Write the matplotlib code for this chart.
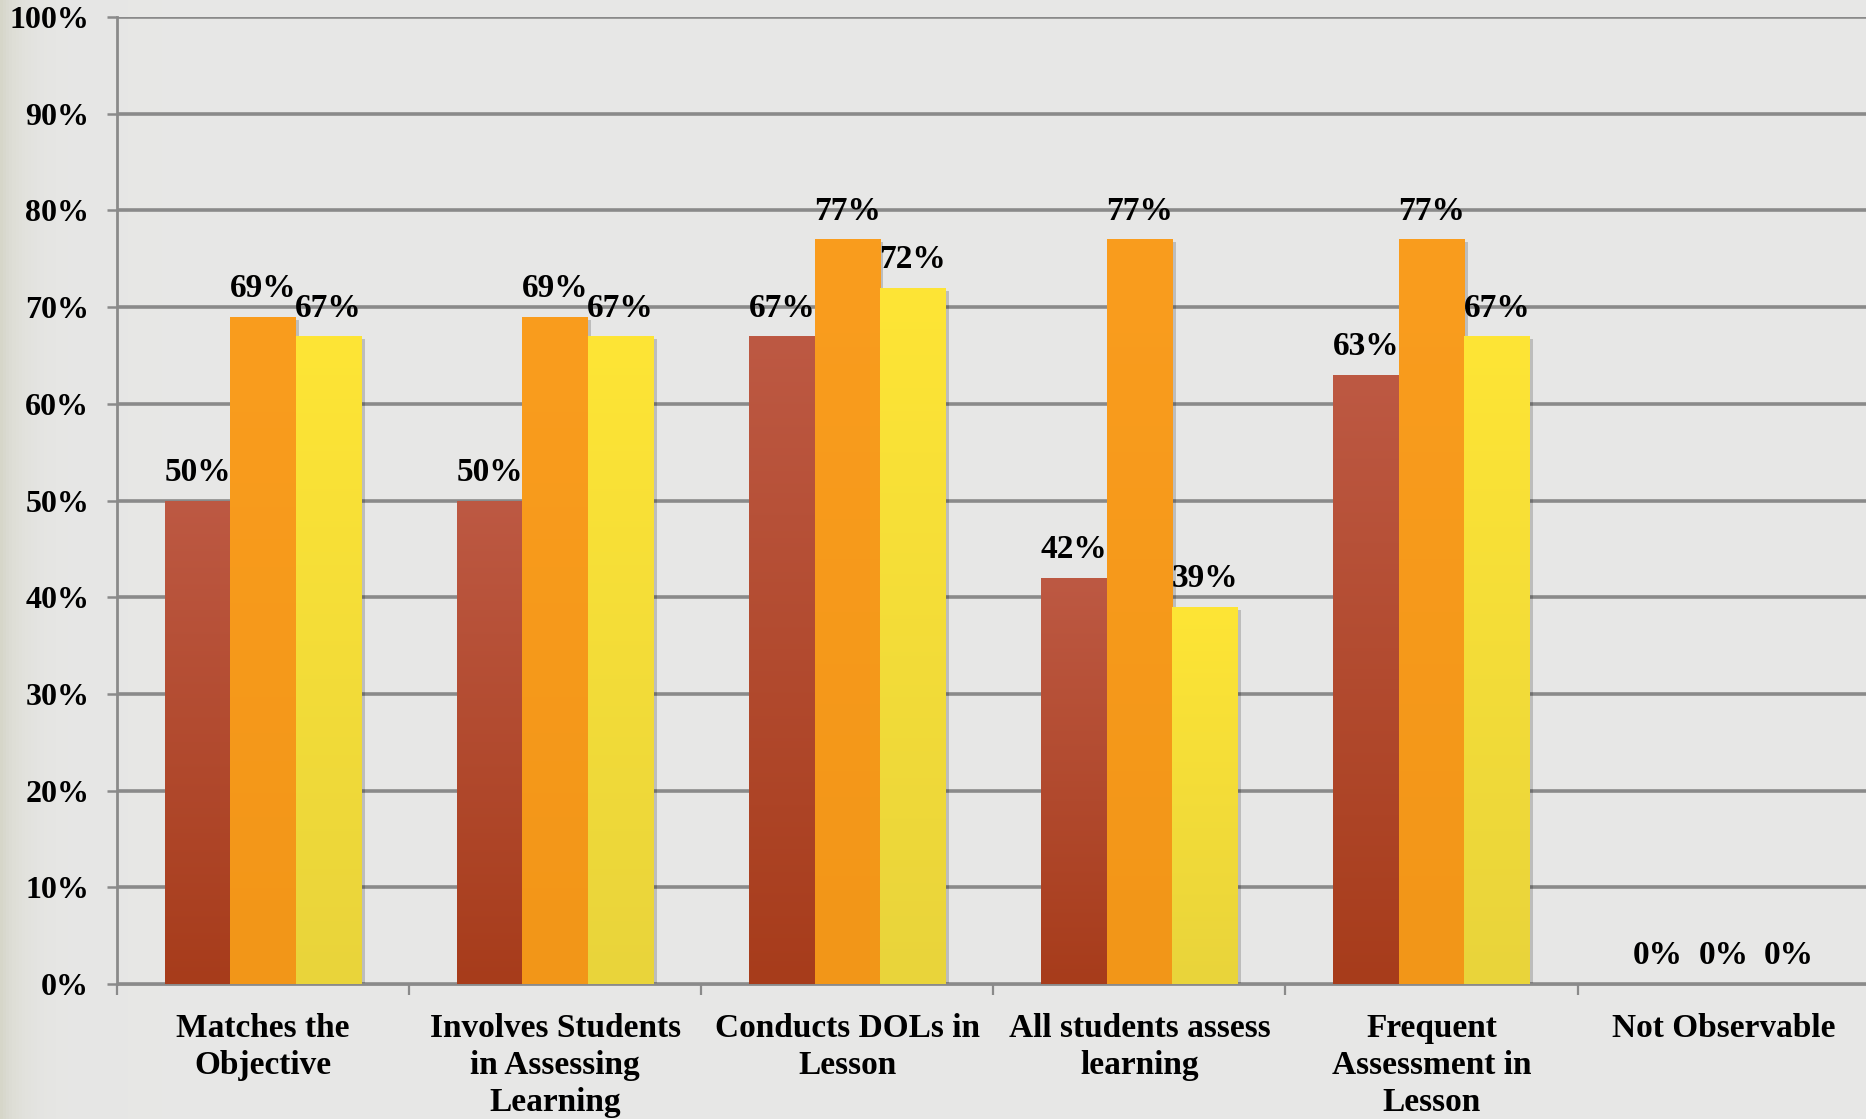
import numpy as np
import matplotlib
matplotlib.use("Agg")
import matplotlib.pyplot as plt
from matplotlib.colors import LinearSegmentedColormap
import matplotlib.patheffects as pe
from matplotlib.ticker import FixedLocator, PercentFormatter

categories = [
    "Matches the\nObjective",
    "Involves Students\nin Assessing\nLearning",
    "Conducts DOLs in\nLesson",
    "All students assess\nlearning",
    "Frequent\nAssessment in\nLesson",
    "Not Observable",
]
series_a = [50, 50, 67, 42, 63, 0]
series_b = [69, 69, 77, 77, 77, 0]
series_c = [67, 67, 72, 39, 67, 0]
y_ticks = [0, 10, 20, 30, 40, 50, 60, 70, 80, 90, 100]

# top -> bottom colours of each series' gradient
grad_a = ("#bd5943", "#a73c1b")
grad_b = ("#fa9d1e", "#f29618")
grad_c = ("#fee535", "#e9d43b")

plt.rcParams["font.family"] = ["Liberation Serif", "DejaVu Serif"]
plt.rcParams["font.weight"] = "bold"

W, H = 1866, 1119
fig = plt.figure(figsize=(W / 100, H / 100), dpi=100)

# page background: light grey with a warm strip at the left edge
bg = fig.add_axes([0, 0, 1, 1], zorder=-10)
bg.set_axis_off()
xs = np.linspace(0, 1, 600)
edge = np.exp(-xs * W / 20.0)
base = np.array([0.906, 0.906, 0.902])
warm = np.array([0.84, 0.84, 0.79])
row = base[None, :] * (1 - edge[:, None]) + warm[None, :] * edge[:, None]
bg.imshow(row[None, :, :], extent=[0, 1, 0, 1], aspect="auto")
bg.set_xlim(0, 1)
bg.set_ylim(0, 1)

ax = fig.add_axes([117 / W, 135 / H, 1 - 117 / W + 0.002, (984 - 17) / H])
ax.set_facecolor("none")

n = len(categories)
x = np.arange(n)
bw = 0.224
offsets = [-bw, 0, bw]
grid_color = "#8a8a8a"

ax.set_xlim(-0.5, n - 0.5)
ax.set_ylim(0, 100)
ax.yaxis.set_major_locator(FixedLocator(y_ticks))
ax.yaxis.set_major_formatter(PercentFormatter(decimals=0))
ax.grid(axis="y", color=grid_color, linewidth=2.6, zorder=0)
ax.set_axisbelow(True)

for s in ["top", "right"]:
    ax.spines[s].set_visible(False)
for s in ["left", "bottom"]:
    ax.spines[s].set_color(grid_color)
    ax.spines[s].set_linewidth(2.0)

ax.set_xticks(x)
ax.set_xticklabels(categories, fontsize=24, fontweight="bold",
                   linespacing=1.25, va="top")
ax.tick_params(axis="x", which="major", length=0, pad=21)
ax.set_xticks(np.arange(n + 1) - 0.5, minor=True)
ax.tick_params(axis="x", which="minor", length=8, width=1.6, color=grid_color)
ax.tick_params(axis="y", length=7, width=1.8, color=grid_color, pad=13,
               labelsize=23)
for lbl in ax.get_yticklabels():
    lbl.set_fontweight("bold")

shadow = [pe.SimplePatchShadow(offset=(2.5, -2), alpha=0.18, shadow_rgbFace="k"),
          pe.Normal()]

for vals, off, grad in zip([series_a, series_b, series_c], offsets,
                           [grad_a, grad_b, grad_c]):
    cmap = LinearSegmentedColormap.from_list("g", [grad[1], grad[0]])
    bars = ax.bar(x + off, vals, width=bw, color=grad[0], linewidth=0,
                  zorder=2)
    for b, v in zip(bars, vals):
        if v > 0:
            b.set_path_effects(shadow)
            x0 = b.get_x()
            grad_img = np.linspace(0, 1, 256).reshape(-1, 1)
            im = ax.imshow(grad_img, extent=[x0, x0 + bw, 0, v], origin="lower",
                           aspect="auto", cmap=cmap, zorder=3)
            im.set_clip_path(b)
        ax.annotate(f"{v}%", (b.get_x() + bw / 2, v), xytext=(0, 9),
                    textcoords="offset points", ha="center", va="bottom",
                    fontsize=24, fontweight="bold", zorder=5)

ax.set_xlim(-0.5, n - 0.5)
ax.set_ylim(0, 100)

fig.savefig("out.png", dpi=100)
